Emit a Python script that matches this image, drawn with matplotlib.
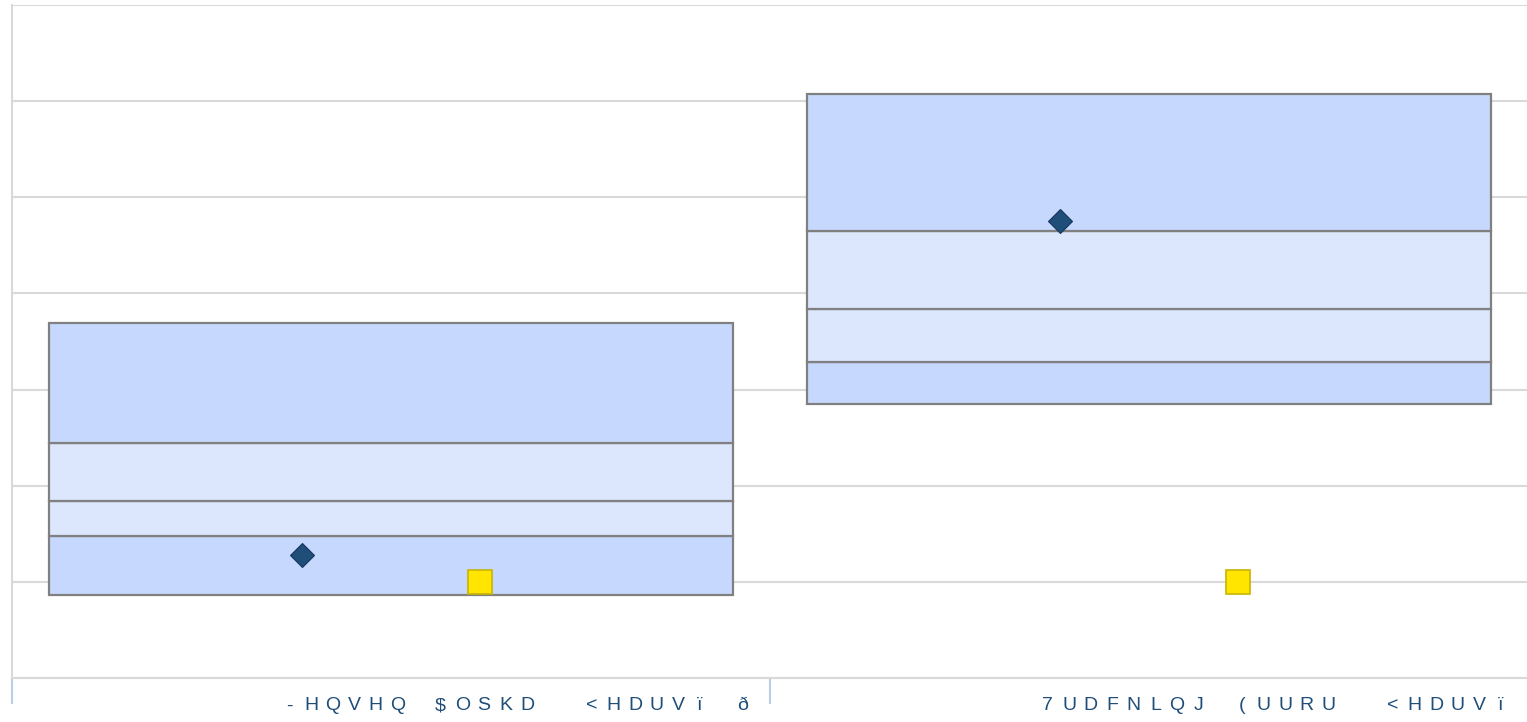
import matplotlib
matplotlib.use("Agg")
import matplotlib.pyplot as plt
import matplotlib.transforms as mtransforms

# ---- data ----
categories = ["-HQVHQ $OSKD  <HDUVï ð", "7UDFNLQJ (UURU  <HDUVï"]
box_min = [-0.135, 1.851]
box_q1 = [0.478, 2.288]
box_med = [0.843, 2.840]
box_q3 = [1.446, 3.651]
box_max = [2.694, 5.076]
diamond_vals = [0.28, 3.75]
square_vals = [0.0, 0.0]

outer_color = "#c6d8fd"
inner_color = "#dce6fd"
edge_color = "#808080"

fig = plt.figure(figsize=(15.27, 7.22), dpi=100)
ax = fig.add_axes([12 / 1527, 1 - 678 / 722, 1516 / 1527, 673 / 722])

x = list(range(len(categories)))
width = 0.903
levels = [box_min, box_q1, box_med, box_q3, box_max]
colors = [outer_color, inner_color, inner_color, outer_color]
for k in range(4):
    bottoms = levels[k]
    heights = [t - b for t, b in zip(levels[k + 1], levels[k])]
    ax.bar(x, heights, bottom=bottoms, width=width, color=colors[k],
           edgecolor=edge_color, linewidth=1.6, zorder=3)

off = 0.117
ax.plot([xi - off for xi in x], diamond_vals, linestyle="none", marker="D",
        markersize=12.5, markerfacecolor="#1f4e79", markeredgecolor="#17375e",
        markeredgewidth=0.8, zorder=5)
ax.plot([xi + off for xi in x], square_vals, linestyle="none", marker="s",
        markersize=17, markerfacecolor="#ffe500", markeredgecolor="#c9b400",
        markeredgewidth=1.2, zorder=5)

ax.set_xlim(-0.5, len(categories) - 0.5)
ax.set_ylim(-1, 6)
ax.set_yticks(range(-1, 7))
ax.yaxis.grid(True, color="#d9d9d9", linewidth=1.5, zorder=0)
ax.tick_params(axis="y", length=0, labelleft=False)
ax.set_xticks([xi - 0.5 for xi in x] + [len(categories) - 0.5])
ax.tick_params(axis="x", length=19, width=1.5, color="#b9cde5", labelbottom=False)
for s in ["top", "right"]:
    ax.spines[s].set_visible(False)
ax.spines["left"].set_color("#d9d9d9")
ax.spines["left"].set_linewidth(1.5)
ax.spines["bottom"].set_color("#d9d9d9")
ax.spines["bottom"].set_linewidth(1.5)
ax.set_axisbelow(True)

# category labels, drawn with fixed character pitch (wide tracking)
trans = mtransforms.blended_transform_factory(ax.transData, fig.transFigure)
pitch_pt = 21.6 * 72 / 100
for xi, lab in zip(x, categories):
    for i, ch in enumerate(lab):
        if ch == " ":
            continue
        ax.annotate(ch, xy=(xi - 0.134, 1 - 706 / 722), xycoords=trans,
                    xytext=(i * pitch_pt, 0), textcoords="offset points",
                    ha="center", va="center", fontsize=14, color="#1f4e79",
                    family="Liberation Sans", annotation_clip=False)

fig.savefig("out.png", dpi=100)
